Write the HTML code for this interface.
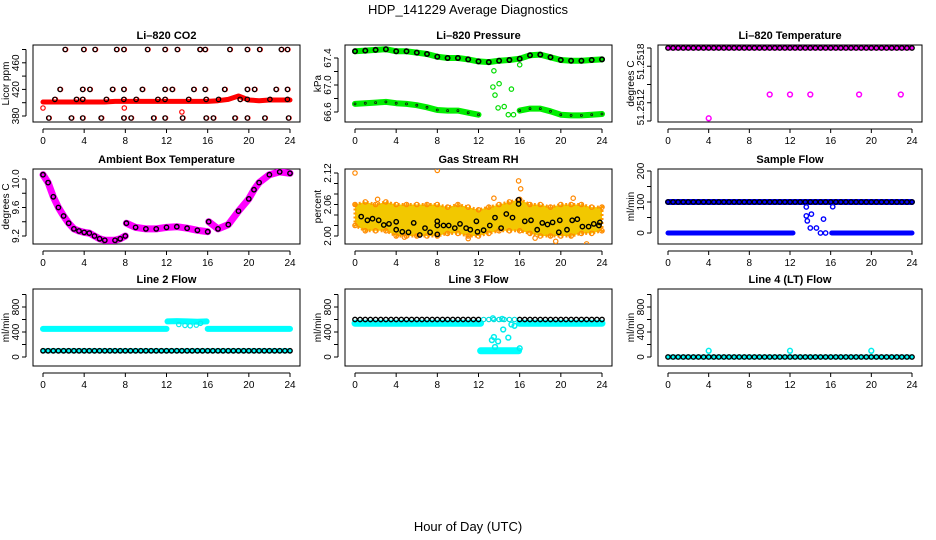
<!DOCTYPE html>
<html><head><meta charset="utf-8"><style>
html,body{margin:0;padding:0;background:#fff;}
svg{display:block;font-family:"Liberation Sans",sans-serif;}
</style></head><body>
<svg id="chart" width="936" height="540" viewBox="0 0 936 540">
<text x="468" y="14" text-anchor="middle" font-size="13">HDP_141229  Average Diagnostics</text>
<text x="468" y="531" text-anchor="middle" font-size="13">Hour of Day (UTC)</text>
</svg>
<script>
// ---------- data ----------
const hourTicks = [0,4,8,12,16,20,24];
const H = [0,1,2,3,4,5,6,7,8,9,10,11,12,13,14,15,16,17,18,19,20,21,22,23,24];
// CO2
const co2RedY = [401,401,401,401,401,401,401,402,402,402,402,402,402,402,402,402,402,403,405,410,404,403,404,404,404];
const co2BlackX = [2.2,4.0,5.1,7.2,7.9,10.2,11.9,13.1,15.3,15.8,18.2,19.9,21.1,23.2,23.8,
 1.7,3.9,4.6,6.8,7.9,9.7,11.9,12.6,14.7,15.8,17.7,19.9,20.6,22.7,23.8,
 1.2,3.3,3.9,6.2,7.9,9.1,11.2,11.9,14.2,15.9,17.1,19.2,19.9,22.1,23.8,
 0.6,2.8,3.9,5.7,7.9,8.6,10.8,11.9,13.6,15.9,16.6,18.7,19.9,21.6,23.9];
const co2BlackY = [480,480,480,480,480,480,480,480,480,480,480,480,480,480,480,
 420,420,420,420,420,420,420,420,420,420,420,420,420,420,420,
 405,405,405,405,405,405,405,405,405,405,405,405,405,405,405,
 377,377,377,377,377,377,377,377,377,377,377,377,377,377,377];
const co2OutX = [0,7.9,13.5];
const co2OutY = [392,392,386];
// Pressure
const presUpY = [67.50,67.51,67.52,67.53,67.50,67.50,67.48,67.46,67.42,67.40,67.40,67.38,67.35,67.34,67.36,67.37,67.39,67.44,67.45,67.41,67.37,67.36,67.36,67.37,67.38];
const presLowY = [66.72,66.73,66.74,66.75,66.73,66.72,66.70,66.67,66.63,66.62,66.62,66.59,66.56,null,null,null,66.62,66.65,66.65,66.61,66.56,66.55,66.55,66.56,66.57];
const presOutX = [13.5,13.4,14.0,13.6,13.9,14.5,14.9,15.2,15.4,16.0];
const presOutY = [67.21,66.97,67.02,66.85,66.66,66.68,66.56,66.94,66.56,67.30];
// Li-820 temperature
const tempTopY = H.map(()=>51.2518);
const tempOutX = [4.0,10.0,12.0,14.0,18.8,22.9];
const tempOutY = [51.25103,51.25129,51.25129,51.25129,51.25129,51.25129];
// Ambient box temperature
const ambX = [0,0.5,1,1.5,2,2.5,3,3.5,4,4.5,5,5.5,6,7,7.5,8,null,8.1,9,10,11,12,13,14,15,16,null,16.1,17,18,19,20,20.5,21,22,23,24];
const ambY = [10.06,9.95,9.75,9.6,9.48,9.38,9.3,9.27,9.25,9.24,9.2,9.16,9.14,9.14,9.16,9.2,null,9.38,9.32,9.3,9.3,9.32,9.33,9.31,9.28,9.26,null,9.40,9.3,9.36,9.55,9.72,9.85,9.95,10.06,10.1,10.08];
// Gas stream RH
const rhLow = [2.02,2.01,2.01,2.01,2.0,2.0,2.0,2.0,2.0,2.005,2.005,2.0,2.0,2.005,2.01,2.01,2.01,2.005,2.0,2.0,2.0,2.0,2.005,2.005,2.01];
const rhHigh = [2.06,2.065,2.06,2.065,2.06,2.06,2.06,2.06,2.06,2.055,2.06,2.055,2.05,2.055,2.06,2.065,2.07,2.06,2.06,2.055,2.06,2.06,2.06,2.055,2.055];
const rhOutX = [0,8,15.9,16.1,13.5,19.5,22.5,11,4.8,2.2,17.5,21.2];
const rhOutY = [2.12,2.125,2.105,2.09,2.072,1.99,1.985,1.995,1.998,2.07,1.996,2.072];
const rhBlackX = [0.6,1.2,1.7,2.3,2.8,3.3,4.0,4.0,4.6,5.2,5.7,6.3,6.8,7.3,8,8,8,8.6,9.1,9.7,10.2,10.8,11.2,11.8,11.9,12.5,13.1,13.6,14.2,14.7,15.3,15.9,15.9,16.5,17.1,17.7,18.2,18.7,19.2,19.8,19.9,20.6,21.1,21.6,22.1,22.7,23.2,23.7,23.8];
const rhBlackY = [2.037,2.030,2.033,2.030,2.021,2.023,2.027,2.012,2.008,2.007,2.025,2.002,2.015,2.007,2.003,2.028,2.02,2.02,2.02,2.015,2.023,2.015,2.012,2.028,2.008,2.011,2.02,2.035,2.015,2.042,2.035,2.069,2.061,2.028,2.03,2.012,2.025,2.022,2.026,2.007,2.03,2.012,2.03,2.032,2.018,2.018,2.023,2.02,2.026];
// Sample flow
const sfTopY = H.map(()=>100);
const sfZeroX = [0,2,4,6,8,10,12.3,null,16.1,18,20,22,24];
const sfZeroY = [0,0,0,0,0,0,0,null,0,0,0,0,0];
const sfOutX = [13.6,13.6,13.7,14.1,14.0,14.6,15.0,15.5,15.3,16.2];
const sfOutY = [84,55,39,61,16,16,0,0,45,85];
// Line 2 flow
const l2CyanX = [0,2,4,6,8,10,12,null,12.1,13,14,15,15.9,null,16,18,20,22,24];
const l2CyanY = [450,450,450,450,450,450,450,null,570,575,570,565,570,null,450,450,450,450,450];
const l2OutX = [13.2,13.8,14.3,14.9,15.3];
const l2OutY = [520,505,500,510,540];
const l2LowY = H.map(()=>100);
// Line 3 flow
const l3CyanX = [0,2,4,6,8,10,12.2,null,12.2,13,14,15,15.9,null,16,18,20,22,24];
const l3CyanY = [540,540,540,540,540,540,540,null,100,100,100,100,100,null,540,540,540,540,540];
const l3OutX = [13.3,13.5,13.6,13.9,14.4,14.9,15.2,15.5,16.0,13.4,14.3];
const l3OutY = [270,320,160,250,440,310,520,500,140,620,610];
const l3BlackY = H.map(()=>600);
// Line 4 flow
const l4ZeroY = H.map(()=>0);
const l4OutX = [4,12,20];
const l4OutY = [100,100,100];

// ---------- drawing ----------
const svg = document.getElementById('chart');
const NS = 'http://www.w3.org/2000/svg';
function el(tag, parent){ const e=document.createElementNS(NS,tag); parent.appendChild(e); return e; }
function setA(e, o){ for(const k in o) e.setAttribute(k, o[k]); }

const cols = [{l:33,r:300,x0:43,x24:290},{l:345,r:612,x0:355,x24:602},{l:658,r:922,x0:668,x24:912}];
const rows = [{t:45,b:122},{t:169,b:244},{t:289,b:366}];

function makePanel(name, col, row, title, ytitle, ymin, ymax, yPx0, yPx1, yTicks, yLabels){
  const c = cols[col], r = rows[row];
  const g = el('g', svg);
  
  
  const xs = h => c.x0 + (h/24)*(c.x24-c.x0);
  const ys = v => yPx0 + (v-ymin)/(ymax-ymin)*(yPx1-yPx0);
  const box = el('rect', g);
  setA(box,{x:c.l,y:r.t,width:c.r-c.l,height:r.b-r.t,fill:'none',stroke:'#000','stroke-width':1});
  
  
  const t = el('text', g);
  setA(t,{x:(c.l+c.r)/2,y:r.t-6,'text-anchor':'middle','font-size':11,'font-weight':'bold'});
  t.textContent = title;
  
  
  const xa = el('g', g);
  
  
  const axY = r.b + 7;
  const xl = el('line', xa);
  setA(xl,{x1:xs(0),x2:xs(24),y1:axY,y2:axY,stroke:'#000'});
  hourTicks.forEach(h=>{
    const tk = el('line', xa);
    setA(tk,{x1:xs(h),x2:xs(h),y1:axY,y2:axY+4,stroke:'#000'});
    const tl = el('text', xa);
    setA(tl,{x:xs(h),y:axY+15,'text-anchor':'middle','font-size':10});
    tl.textContent = h;
    
    
  });
  const ya = el('g', g);
  
  
  const axX = c.l - 7;
  const yl = el('line', ya);
  setA(yl,{x1:axX,x2:axX,y1:ys(yTicks[0]),y2:ys(yTicks[yTicks.length-1]),stroke:'#000'});
  yTicks.forEach(v=>{
    const tk = el('line', ya);
    setA(tk,{x1:axX-4,x2:axX,y1:ys(v),y2:ys(v),stroke:'#000'});
  });
  yLabels.forEach(lb=>{
    const tl = el('text', ya);
    const yy = ys(lb[0]);
    setA(tl,{x:axX-7,y:yy,'text-anchor':'middle','font-size':10,transform:`rotate(-90 ${axX-7} ${yy})`});
    tl.textContent = lb[1];
    
    
  });
  const yt = el('text', g);
  const cy = (r.t+r.b)/2, tx = c.l-24;
  setA(yt,{x:tx,y:cy,'text-anchor':'middle','font-size':10,transform:`rotate(-90 ${tx} ${cy})`});
  yt.textContent = ytitle;
  
  
  const marks = el('g', g);
  
  
  const clip = el('clipPath', g); clip.id = name+'-clip';
  const cr = el('rect', clip); setA(cr,{x:c.l,y:r.t,width:c.r-c.l,height:r.b-r.t});
  marks.setAttribute('clip-path', `url(#${name}-clip)`);
  return {g:marks, xs, ys, name};
}
function band(p, xArr, yArr, color, w, label){
  let d=''; let pen=false;
  for(let i=0;i<xArr.length;i++){
    if(xArr[i]===null||yArr[i]===null){pen=false;continue;}
    d += (pen?'L':'M') + p.xs(xArr[i]).toFixed(1)+','+p.ys(yArr[i]).toFixed(1);
    pen=true;
  }
  const pa = el('path', p.g);
  setA(pa,{d:d,fill:'none',stroke:color,'stroke-width':w,'stroke-linecap':'round','stroke-linejoin':'round'});
  
  
}
function pts(p, xArr, yArr, color, label, r, sw){
  for(let i=0;i<xArr.length;i++){
    if(xArr[i]===null||yArr[i]===null) continue;
    const ci = el('circle', p.g);
    setA(ci,{cx:p.xs(xArr[i]).toFixed(1),cy:p.ys(yArr[i]).toFixed(1),r:r||2.2,fill:'none',stroke:color,'stroke-width':sw||1.2});
    
    
  }
}
const HALF = []; for(let i=0;i<=48;i++) HALF.push(i/2);
function rep(v){ return HALF.map(()=>v); }

let p = makePanel('co2',0,0,'Li\u2013820 CO2','Licor ppm',380,480,116,49.5,[380,400,420,440,460,480],[[380,'380'],[420,'420'],[460,'460']]);
band(p,H,co2RedY,'#ff0000',5,'red-series');
pts(p,co2OutX,co2OutY,'#ff0000','red-outlier');
pts(p,co2BlackX,co2BlackY,'#ff0000','black-point-shadow');
pts(p,co2BlackX.map(v=>v-0.05),co2BlackY,'#000','black-point');

p = makePanel('pressure',1,0,'Li\u2013820 Pressure','kPa',66.6,67.4,112,58,[66.6,66.8,67.0,67.2,67.4],[[66.6,'66.6'],[67.0,'67.0'],[67.4,'67.4']]);
band(p,H,presUpY,'#00ee00',6,'upper-series');
pts(p,H,presUpY,'#00ee00','upper-green-point');
pts(p,H,presUpY,'#000','upper-black-point',2.2,1.6);
band(p,H,presLowY,'#00ee00',6,'lower-series');
pts(p,H,presLowY,'#111','lower-point',1,0.8);
pts(p,presOutX,presOutY,'#00dd00','outlier');

p = makePanel('li820-temp',2,0,'Li\u2013820 Temperature','degrees C',51.2510,51.2518,121,48,[51.2510,51.2512,51.2514,51.2516,51.2518],[[51.25165,'51.2518'],[51.25115,'51.2512']]);
band(p,H,tempTopY,'#ff00ff',5,'pink-series');
pts(p,HALF,rep(51.2518),'#000','black-point',2.2,1.4);
pts(p,tempOutX,tempOutY,'#ff00ff','pink-outlier',2.4,1.5);

p = makePanel('ambient-temp',0,1,'Ambient Box Temperature','degrees C',9.2,10.0,236,179,[9.2,9.4,9.6,9.8,10.0],[[9.2,'9.2'],[9.6,'9.6'],[10.0,'10.0']]);
band(p,ambX,ambY,'#ff00ff',7,'magenta-series');
pts(p,ambX,ambY,'#000','black-point',2.2,1.4);

p = makePanel('gas-rh',1,1,'Gas Stream RH','percent',2.0,2.12,236,173,[2.0,2.02,2.04,2.06,2.08,2.10,2.12],[[2.0,'2.00'],[2.06,'2.06'],[2.12,'2.12']]);
(function(){
  let d='M'; H.forEach((h,i)=>{d+=(i?'L':'')+p.xs(h).toFixed(1)+','+p.ys(rhHigh[i]).toFixed(1);});
  for(let i=H.length-1;i>=0;i--) d+='L'+p.xs(H[i]).toFixed(1)+','+p.ys(rhLow[i]).toFixed(1);
  d+='Z';
  const pa = el('path', p.g);
  setA(pa,{d:d,fill:'#f2c800',stroke:'#ff9900','stroke-width':3,'stroke-dasharray':'2 2'});
  
  
})();
pts(p,H,rhHigh,'#ff8800','band-top-point');
pts(p,H,rhLow,'#ff8800','band-bottom-point');
pts(p,rhOutX,rhOutY,'#ff8800','outlier');
pts(p,rhBlackX,rhBlackY,'#000','black-point',2.2,1.4);

p = makePanel('sample-flow',2,1,'Sample Flow','ml/min',0,200,233,171,[0,50,100,150,200],[[0,'0'],[100,'100'],[200,'200']]);
band(p,H,sfTopY,'#0000ff',6,'blue-100-series');
pts(p,HALF,rep(100),'#000','black-point',2.2,1.4);
band(p,sfZeroX,sfZeroY,'#0000ff',5,'blue-zero-series');
pts(p,sfOutX,sfOutY,'#0000ff','outlier',2.2,1.4);

p = makePanel('line2-flow',0,2,'Line 2 Flow','ml/min',0,800,357,307,[0,200,400,600,800,1000],[[0,'0'],[400,'400'],[800,'800']]);
band(p,l2CyanX,l2CyanY,'#00ffff',6,'cyan-upper-series');
pts(p,l2OutX,l2OutY,'#00eeee','cyan-outlier');
band(p,H,l2LowY,'#00ffff',5,'cyan-lower-series');
pts(p,HALF,rep(100),'#000','black-point',2.2,1.4);

p = makePanel('line3-flow',1,2,'Line 3 Flow','ml/min',0,800,357,307,[0,200,400,600,800,1000],[[0,'0'],[400,'400'],[800,'800']]);
band(p,l3CyanX,l3CyanY,'#00ffff',7,'cyan-series');
pts(p,l3OutX,l3OutY,'#00eeee','cyan-outlier',2.4,1.5);
pts(p,HALF,rep(600).map((v,i)=>(HALF[i]>12.3&&HALF[i]<15.9)?null:v),'#000','black-point',2.2,1.4);
pts(p,HALF.filter(h=>h>12.3&&h<15.9),rep(600),'#00dddd','cyan-top-point');

p = makePanel('line4-flow',2,2,'Line 4 (LT) Flow','ml/min',0,800,357,307,[0,200,400,600,800,1000],[[0,'0'],[400,'400'],[800,'800']]);
band(p,H,l4ZeroY,'#00ffff',5,'cyan-series');
pts(p,HALF,rep(0),'#000','black-point',2.2,1.4);
pts(p,l4OutX,l4OutY,'#00eeee','cyan-outlier',2.4,1.5);
</script>
</body></html>
